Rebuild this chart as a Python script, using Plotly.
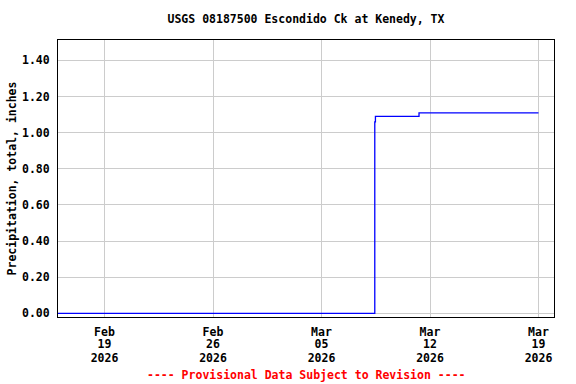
import plotly.graph_objects as go

# Data (step series of cumulative precipitation)
times = ["2026-02-16 00:00", "2026-03-08 10:30", "2026-03-08 11:30",
         "2026-03-11 07:00", "2026-03-19 00:00"]
values = [0.00, 1.06, 1.09, 1.11, 1.11]

tick_dates = ["2026-02-19", "2026-02-26", "2026-03-05", "2026-03-12", "2026-03-19"]
tick_months = ["Feb", "Feb", "Mar", "Mar", "Mar"]
tick_days = ["19", "26", "05", "12", "19"]
tick_years = ["2026", "2026", "2026", "2026", "2026"]
y_ticks = [0.0, 0.2, 0.4, 0.6, 0.8, 1.0, 1.2, 1.4]
y_text = ["0.00", "0.20", "0.40", "0.60", "0.80", "1.00", "1.20", "1.40"]

FONT = "DejaVu Sans Mono"
FS = 11.5
XR = ["2026-02-16 00:00", "2026-03-20 00:00"]

fig = go.Figure()
fig.add_trace(go.Scatter(x=times, y=values, mode="lines", line_shape="hv",
                         line=dict(color="#0000FF", width=1.3), showlegend=False))
# invisible copies so the extra label axes exist
for ax in ["x2", "x3"]:
    fig.add_trace(go.Scatter(x=times, y=values, xaxis=ax, mode="lines", opacity=0,
                             hoverinfo="skip", showlegend=False))

tf = dict(family=FONT, size=FS, color="black", weight="bold")
common = dict(range=XR, tickvals=tick_dates, automargin=False, tickfont=tf, ticks="",
              zeroline=False)

fig.update_layout(
    width=576, height=384,
    margin=dict(l=58, r=22, t=40, b=67, autoexpand=False),
    paper_bgcolor="white", plot_bgcolor="white",
    title=dict(text="USGS 08187500 Escondido Ck at Kenedy, TX", x=306 / 576, xanchor="center",
               y=1 - 19 / 384, yanchor="middle", automargin=False,
               font=dict(family=FONT, size=FS, color="black", weight="bold")),
    font=dict(family=FONT, size=FS, color="black"),
    xaxis=dict(**common, ticktext=tick_months, ticklabelstandoff=4,
               showgrid=True, gridcolor="#cccccc", gridwidth=1,
               showline=True, mirror=True, linecolor="black", linewidth=1),
    xaxis2=dict(**common, ticktext=tick_days, ticklabelstandoff=18, overlaying="x",
                side="bottom", anchor="y", matches="x", showgrid=False, showline=False),
    xaxis3=dict(**common, ticktext=tick_years, ticklabelstandoff=32, overlaying="x",
                side="bottom", anchor="y", matches="x", showgrid=False, showline=False),
    yaxis=dict(
        range=[-0.02, 1.513],
        tickvals=y_ticks, ticktext=y_text, automargin=False, tickfont=tf,
        showgrid=True, gridcolor="#cccccc", gridwidth=1,
        showline=True, mirror=True, linecolor="black", linewidth=1,
        ticks="", ticklabelstandoff=5, zeroline=False,
        title=dict(text="Precipitation, total, inches", standoff=2,
                   font=dict(family=FONT, size=FS, color="black", weight="bold")),
    ),
)
fig.add_annotation(text="---- Provisional Data Subject to Revision ----",
                   xref="paper", yref="paper", x=0.5, y=-(375 - 317) / 277,
                   yanchor="middle", xanchor="center", showarrow=False,
                   font=dict(family=FONT, size=FS, color="red", weight="bold"))

fig.write_html("out.html", post_script="document.body.style.margin='0';",
               config={"displayModeBar": False})
